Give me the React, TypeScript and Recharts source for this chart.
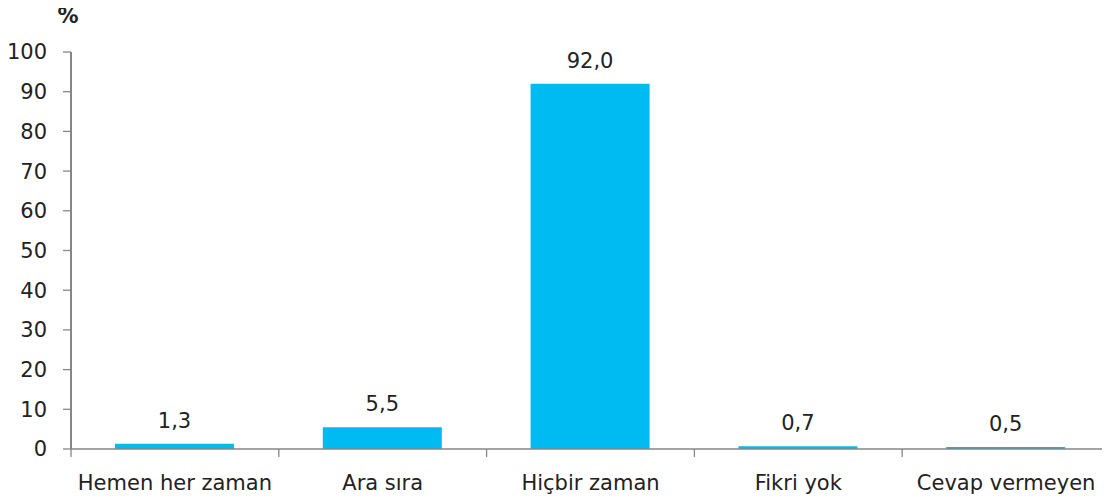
import React from "react";
import { BarChart, Bar, XAxis, YAxis, LabelList } from "recharts";

const categories = ["Hemen her zaman", "Ara sıra", "Hiçbir zaman", "Fikri yok", "Cevap vermeyen"];
const values = [1.3, 5.5, 92.0, 0.7, 0.5];
const yTicks = [0, 10, 20, 30, 40, 50, 60, 70, 80, 90, 100];

const data = categories.map((c, i) => ({ name: c, value: values[i] }));

const FONT = "DejaVu Sans";
const FS = 21;
const TXT = "#222222";
const AX = "#868686";

const XTick = (props: any) => {
  const { x, y, payload, index } = props;
  const off = payload.offset || 0;
  const last = index === categories.length - 1;
  return (
    <g>
      <line x1={x - off} x2={x - off} y1={y - 8} y2={y} stroke={AX} strokeWidth={1.3} />
      {last && <line x1={x + off} x2={x + off} y1={y - 8} y2={y} stroke={AX} strokeWidth={1.3} />}
      <text x={x} y={y + 33} textAnchor="middle" fontFamily={FONT} fontSize={FS} fill={TXT}>
        {payload.value}
      </text>
    </g>
  );
};

export default function App() {
  return (
    <div style={{ position: "relative", width: 1102, height: 493 }}>
      <svg
        width={80}
        height={40}
        style={{ position: "absolute", left: 30, top: -8, overflow: "visible" }}
      >
        <text x={30} y={23} textAnchor="middle" fontFamily={FONT} fontWeight="bold" fontSize={FS} fill={TXT}>
          %
        </text>
      </svg>
      <BarChart
        width={1102}
        height={493}
        data={data}
        margin={{ top: 44, right: 0, left: 0, bottom: 0 }}
      >
        <XAxis
          dataKey="name"
          height={52}
          tickLine={false}
          axisLine={{ stroke: AX, strokeWidth: 1.6 }}
          tick={<XTick />}
          interval={0}
        />
        <YAxis
          width={63}
          domain={[0, 100]}
          ticks={yTicks}
          interval={0}
          tickSize={8}
          tickMargin={16}
          axisLine={{ stroke: AX, strokeWidth: 2 }}
          tickLine={{ stroke: AX, strokeWidth: 1.3 }}
          tick={{ fontFamily: FONT, fontSize: FS, fill: TXT }}
        />
        <Bar dataKey="value" fill="#00BAF2" barSize={119} isAnimationActive={false}>
          <LabelList
            dataKey="value"
            position="top"
            offset={16}
            formatter={(v: any) => Number(v).toFixed(1).replace(".", ",")}
            style={{ fontFamily: FONT, fontSize: FS, fill: TXT }}
          />
        </Bar>
      </BarChart>
    </div>
  );
}
